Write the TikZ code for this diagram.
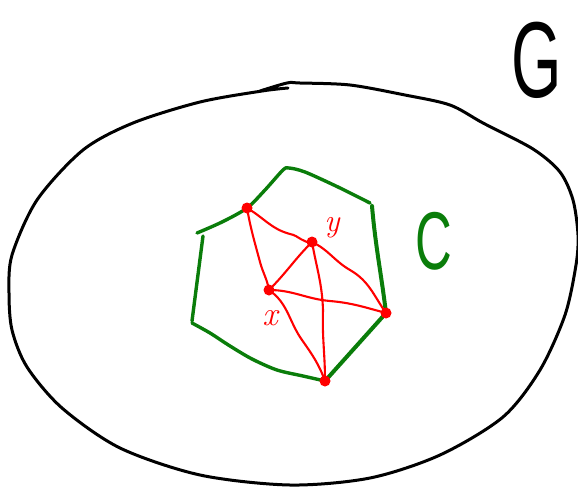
\documentclass[tikz,border=0pt]{standalone}
\usepackage{fontspec}
\newfontfamily\handfont{Liberation Sans}
\definecolor{gr}{RGB}{10,125,10}
\begin{document}
\begin{tikzpicture}[x=1pt,y=-1pt,
  blob/.style={draw=black,line width=3pt,line cap=round,line join=round},
  gedge/.style={draw=gr,line width=3.4pt,line cap=round,line join=round},
  redge/.style={draw=red,line width=2.1pt,line cap=round},
  vdot/.style={circle,fill=red,inner sep=0pt,minimum size=11pt},
  lab/.style={inner sep=0pt}]
\useasboundingbox (0,0) rectangle (578,488);
% big region G
\draw[blob] plot[smooth,tension=0.5] coordinates {
 (260,91) (287,83) (300,83) (350,85) (405,95) (450,105) (483,123) (533,149)
 (560,172) (573,200) (578,235) (576,265) (565,315) (540,370) (503,417)
 (440,455) (370,478) (290,485) (200,475) (120,448) (62,408) (27,367)
 (12,330) (9,293) (12,255) (37,200) (83,150) (133,123) (200,102) (262,91) (288,88)};
% vertices
\coordinate (A) at (247,208);
\coordinate (Y) at (312,242);
\coordinate (X) at (269,290);
\coordinate (R) at (386,313);
\coordinate (B) at (325,381);
\coordinate (g1) at (197,233);
\coordinate (g2) at (289,168);
\coordinate (g3) at (370,203);
\coordinate (g4) at (372,206);
\coordinate (g5) at (192,323);
\coordinate (g6) at (192,321);
\coordinate (g7) at (203,236);
% cycle C
\draw[gedge] plot[smooth,tension=0.5] coordinates {(g1) (222,222) (A) (265,190) (283,170) (g2)
  (305,172) (338,187) (g3)};
\draw[gedge,line width=4pt] (g4) to[out=-85,in=97] (R) -- (B);
\draw[gedge] plot[smooth,tension=0.5] coordinates {(B) (303,376) (277,370) (252,359) (230,346) (210,333) (g5)};
\draw[gedge] (g6) -- (g7);
% edges inside
\draw[redge] (A) to[out=-30,in=165] (290,234) to[out=-10,in=190] (Y);
\draw[redge] (A) to[out=-80,in=105] (260,262) to[out=-75,in=100] (X);
\draw[redge] (X) to[out=45,in=225] (Y);
\draw[redge] (X) to[out=0,in=175] (330,301) to[out=-5,in=165] (R);
\draw[redge] (Y) to[out=-25,in=150] (350,270) to[out=-30,in=125] (R);
\draw[redge] (Y) to[out=-80,in=92] (323,310) to[out=-92,in=90] (B);
\draw[redge] (X) to[out=-35,in=125] (302,340) to[out=-55,in=110] (B);
% dots
\foreach \p in {A,Y,X,R,B} \node[vdot] at (\p) {};
% labels
\node[lab,red,font=\fontsize{34}{34}\selectfont\itshape] (xl) at (270,318) {x};
\node[lab,red,font=\fontsize{32}{32}\selectfont\itshape] (yl) at (332,228) {y};
\node[lab,text=gr,font=\handfont\fontsize{82}{82}\selectfont,xscale=0.62] (cl) at (434,241) {C};
\node[lab,font=\handfont\fontsize{108}{108}\selectfont,xscale=0.6] (gl) at (537,60) {G};
\end{tikzpicture}
\end{document}
